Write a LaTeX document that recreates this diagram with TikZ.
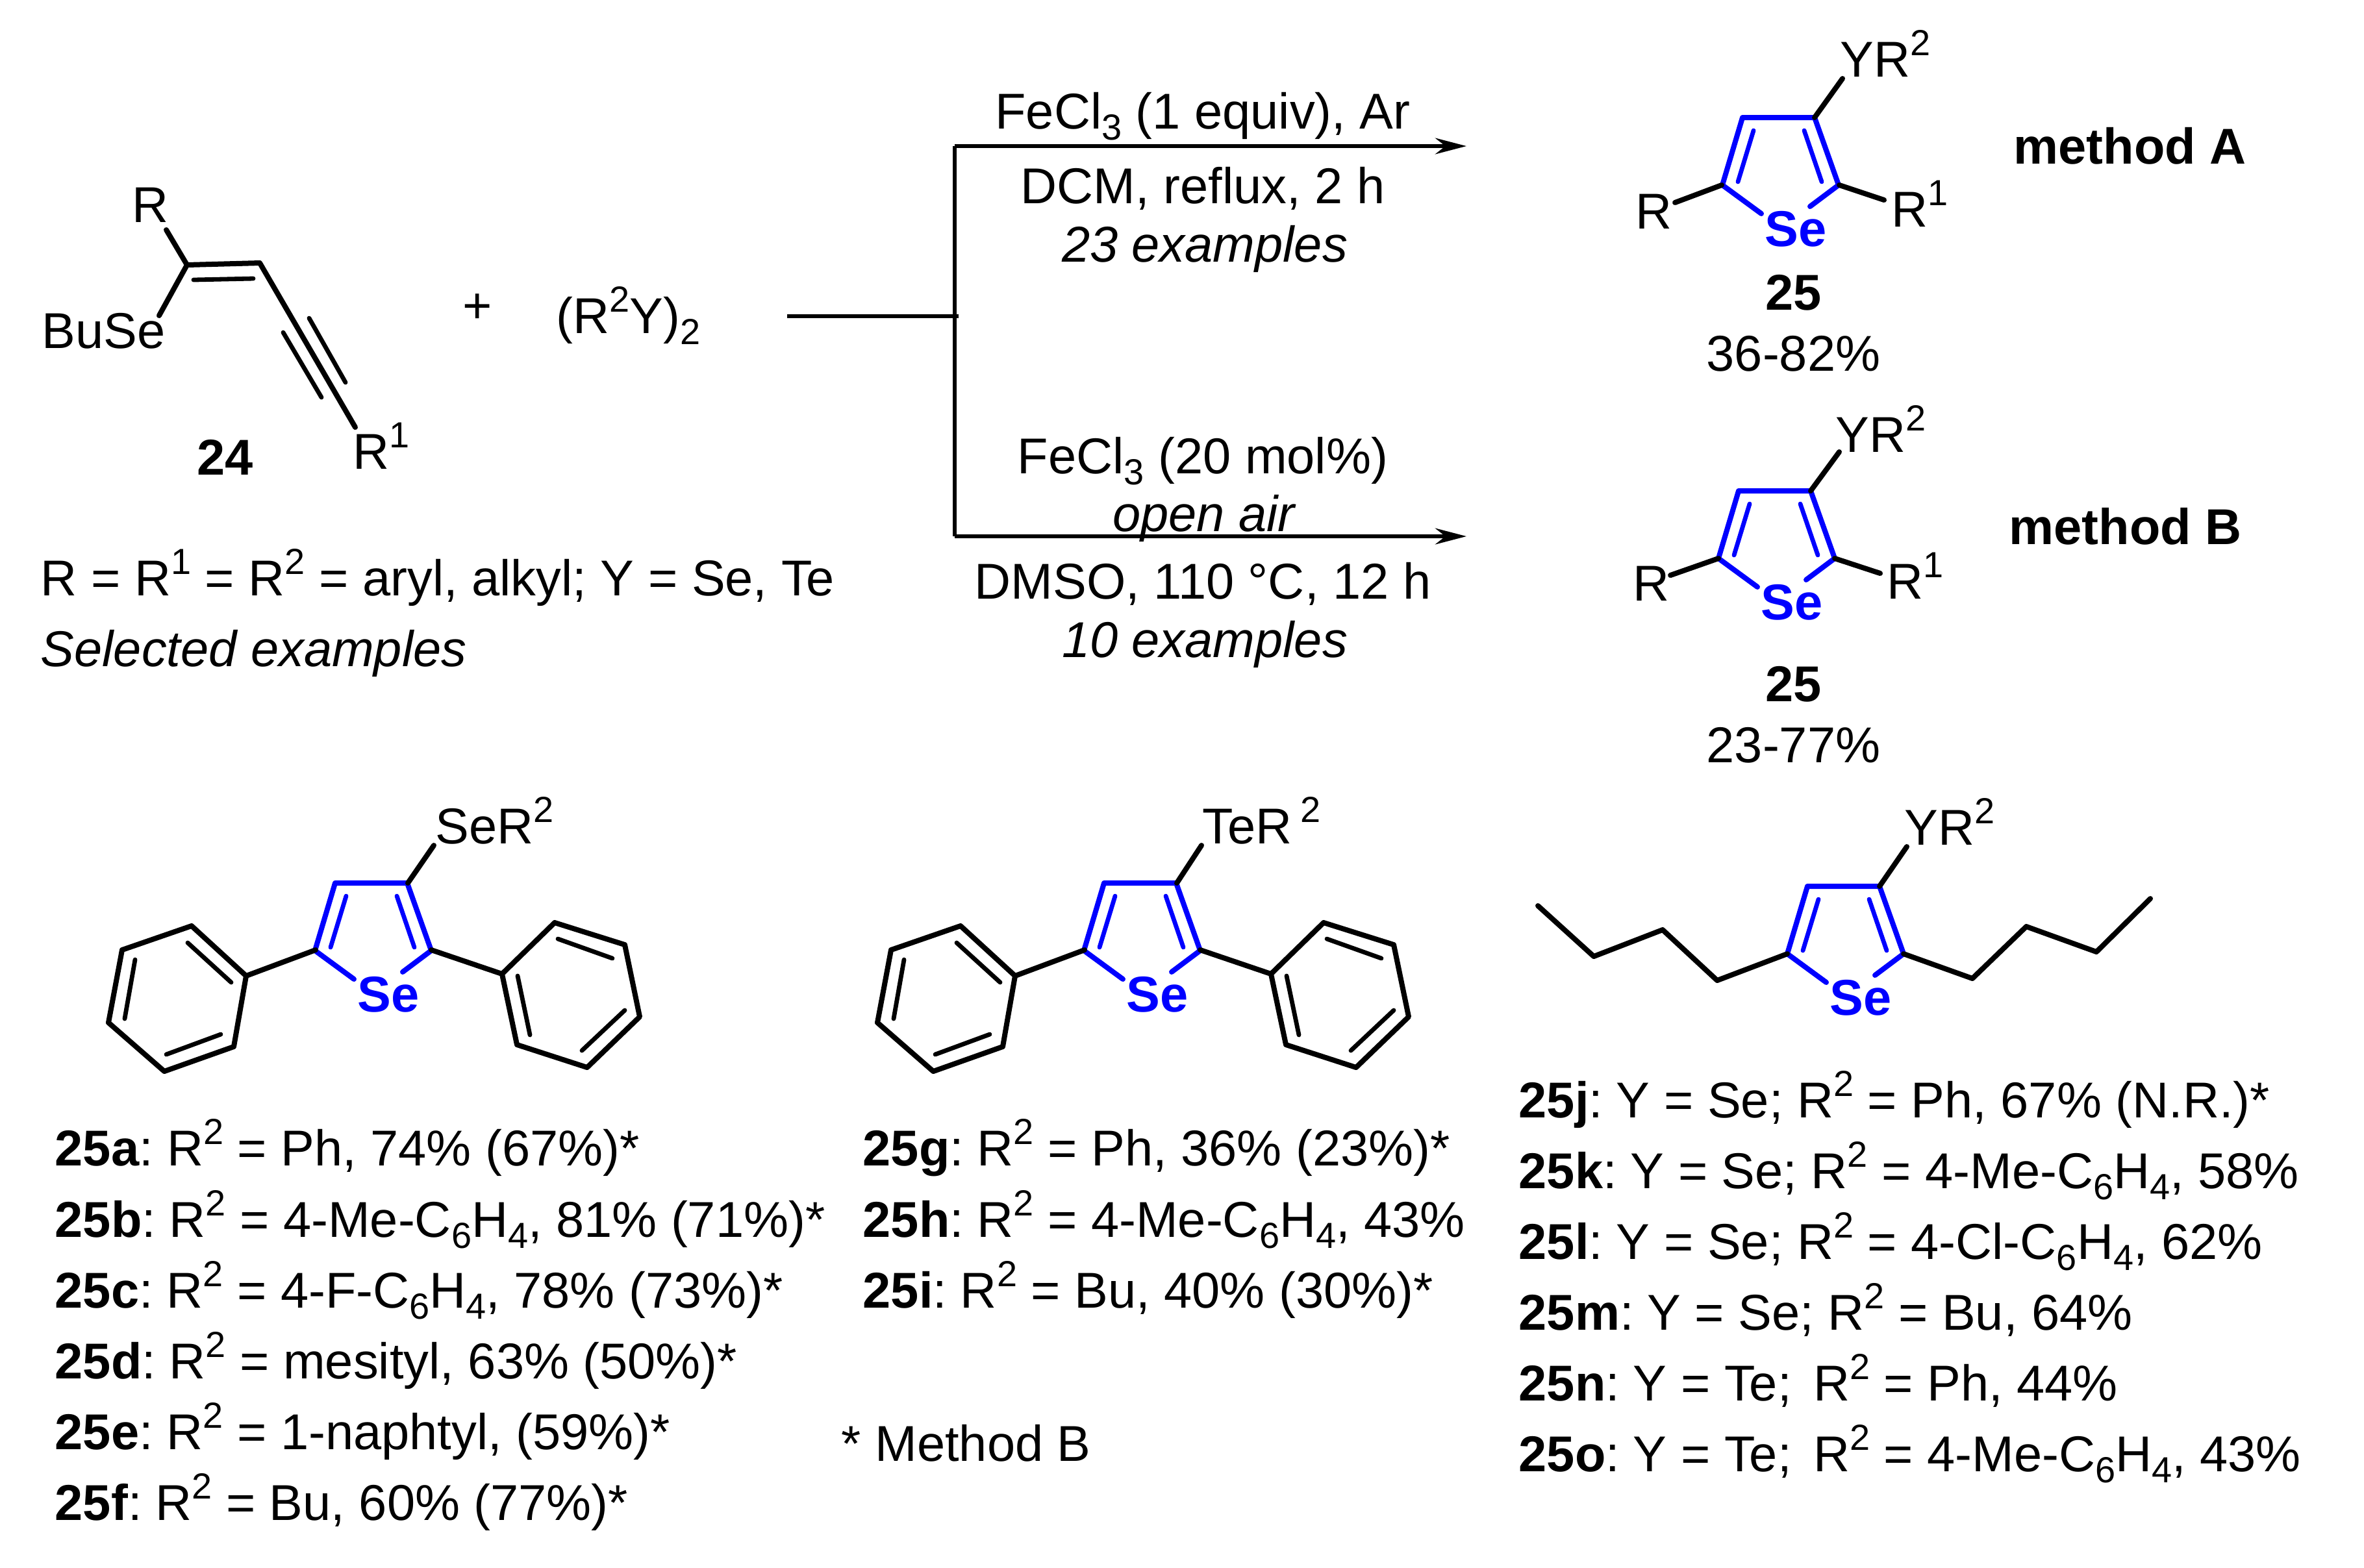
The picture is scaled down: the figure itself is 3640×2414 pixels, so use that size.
\documentclass[tikz,border=0pt]{standalone}
\usepackage{fontspec}
\setmainfont{Liberation Sans}
\usetikzlibrary{arrows.meta}
\definecolor{ringblue}{RGB}{0,0,255}
\newcommand{\sps}[1]{\raisebox{.42em}{\scalebox{.72}{#1}}}
\newcommand{\sbs}[1]{\raisebox{-.22em}{\scalebox{.72}{#1}}}
\newcommand{\cpd}[1]{\textbf{#1}:\hspace{-2pt} }
\tikzset{
  txt/.style={anchor=base west,inner sep=0pt,font=\fontsize{19.4}{23}\selectfont},
  mid/.style={anchor=base,inner sep=0pt,font=\fontsize{19.4}{23}\selectfont},
  bond/.style={line width=2pt,line cap=round,line join=round},
  inbond/.style={line width=1.7pt,line cap=round},
  arrowline/.style={line width=1.5pt},
}
% selenophene ring, origin at its upper left carbon
\newcommand{\selring}[2]{
  \begin{scope}[shift={#1}]
    \draw[bond,ringblue] (29,148) -- (-31,104) -- (0,0) -- (111,0) -- (148,104) -- (104,137);
    \draw[inbond,ringblue] (17,20) -- (-7,99) (95,20) -- (122,99);
    \node[txt,ringblue] (#2) at (34,198) {\textbf{Se}};
  \end{scope}
}
% two phenyl groups of the diaryl selenophene
\newcommand{\phpair}[1]{
  \begin{scope}[shift={#1}]
    \draw[bond] (-137,143) -- (-221,66) -- (-328,103) -- (-349,215) -- (-263,290) -- (-156,252) -- cycle;
    \draw[inbond] (-227,92) -- (-160,153) (-308,118) -- (-324,209) (-260,264) -- (-176,233);
    \draw[bond] (257,140) -- (338,61) -- (446,95) -- (469,206) -- (388,284) -- (280,249) -- cycle;
    \draw[inbond] (343,86) -- (427,116) (281,143) -- (300,234) (380,258) -- (446,196);
    \draw[bond] (-137,143) -- (-30,103) (257,140) -- (148,103);
  \end{scope}
}
\begin{document}
\begin{tikzpicture}[x=0.25pt,y=-0.25pt]
  \useasboundingbox (0,0) rectangle (3640,2414);

  % compound 24
  \draw[bond] (256,354) -- (288,408) -- (245,486);
  \draw[bond] (288,408) -- (400,405) -- (547,658);
  \draw[inbond] (298,431) -- (390,429) (476,490) -- (532,589) (436,512) -- (495,612);
  \node[txt] (sub24R) at (203,342) {R};
  \node[txt] (sub24Se) at (64,536) {BuSe};
  \node[txt] (sub24Ra) at (543,722) {R\sps{1}};
  \node[txt] (lab24) at (303,731) {\textbf{24}};
  \node[txt] (plus) at (712,497) {+};
  \node[txt] (reagent) at (856,513) {(R\sps{2}Y)\sbs{2}};
  \node[txt] (defs) at (62,917) {R = R\sps{1} = R\sps{2} = aryl, alkyl; Y = Se, Te};
  \node[txt] (selected) at (62,1026) {\textit{Selected examples}};

  % arrows
  \coordinate (start) at (1212,487);
  \coordinate (fork) at (1476,487);
  \coordinate (forkA) at (1470,225);
  \coordinate (forkB) at (1470,826);
  \coordinate (endA) at (2258,225);
  \coordinate (endB) at (2258,826);
  \draw[arrowline] (start) -- (fork) (forkA) -- (forkB);
  \draw[arrowline,-{Stealth[length=12pt,width=6.2pt]}] (forkA) -- (endA);
  \draw[arrowline,-{Stealth[length=12pt,width=6.2pt]}] (forkB) -- (endB);
  \node[mid] (condA) at (1852,198) {FeCl\sbs{3} (1 equiv), Ar};
  \node[mid] (solvA) at (1852,313) {DCM, reflux, 2 h};
  \node[mid] (exA) at (1855,403) {\textit{23 examples}};
  \node[mid] (condB) at (1852,729) {FeCl\sbs{3} (20 mol\%)};
  \node[mid] (airB) at (1855,818) {\textit{open air}};
  \node[mid] (solvB) at (1852,922) {DMSO, 110 °C, 12 h};
  \node[mid] (exB) at (1855,1012) {\textit{10 examples}};

  % product, method A
  \selring{(2683,181)}{seA}
  \draw[bond] (2794,181) -- (2837,121) (2651,285) -- (2579,312) (2832,285) -- (2901,308);
  \node[txt] (yA) at (2833,118) {YR\sps{2}};
  \node[txt] (rA) at (2518,352) {R};
  \node[txt] (raA) at (2912,349) {R\sps{1}};
  \node[txt] (labA) at (2718,477) {\textbf{25}};
  \node[txt] (yieldA) at (2627,571) {36-82\%};
  \node[txt] (methA) at (3100,252) {\textbf{method A}};

  % product, method B
  \selring{(2677,756)}{seB}
  \draw[bond] (2788,756) -- (2832,696) (2646,860) -- (2572,886) (2825,860) -- (2895,883);
  \node[txt] (yB) at (2826,696) {YR\sps{2}};
  \node[txt] (rB) at (2514,925) {R};
  \node[txt] (raB) at (2905,922) {R\sps{1}};
  \node[txt] (labB) at (2718,1080) {\textbf{25}};
  \node[txt] (yieldB) at (2627,1174) {23-77\%};
  \node[txt] (methB) at (3093,838) {\textbf{method B}};

  % diphenyl products
  \selring{(516,1360)}{seC}
  \phpair{(516,1360)}
  \draw[bond] (628,1360) -- (668,1302);
  \node[txt] (yC) at (670,1299) {SeR\sps{2}};
  \selring{(1700,1360)}{seD}
  \phpair{(1700,1360)}
  \draw[bond] (1812,1360) -- (1850,1302);
  \node[txt] (yD) at (1851,1299) {TeR\,\sps{2}};

  % dibutyl product
  \selring{(2783,1365)}{seE}
  \draw[bond] (2752,1469) -- (2644,1510) -- (2560,1432) -- (2454,1473) -- (2368,1395);
  \draw[bond] (2931,1469) -- (3037,1507) -- (3120,1427) -- (3228,1466) -- (3311,1384);
  \draw[bond] (2894,1365) -- (2936,1304);
  \node[txt] (yE) at (2932,1301) {YR\sps{2}};

  % first column
  \node[txt] (ex25a) at (84,1795) {\cpd{25a}R\sps{2} = Ph, 74\% (67\%)*};
  \node[txt] (ex25b) at (84,1905) {\cpd{25b}R\sps{2} = 4-Me-C\sbs{6}H\sbs{4}, 81\% (71\%)*};
  \node[txt] (ex25c) at (84,2014) {\cpd{25c}R\sps{2} = 4-F-C\sbs{6}H\sbs{4}, 78\% (73\%)*};
  \node[txt] (ex25d) at (84,2123) {\cpd{25d}R\sps{2} = mesityl, 63\% (50\%)*};
  \node[txt] (ex25e) at (84,2232) {\cpd{25e}R\sps{2} = 1-naphtyl, (59\%)*};
  \node[txt] (ex25f) at (84,2341) {\cpd{25f}R\sps{2} = Bu, 60\% (77\%)*};

  % second column
  \node[txt] (ex25g) at (1328,1795) {\cpd{25g}R\sps{2} = Ph, 36\% (23\%)*};
  \node[txt] (ex25h) at (1328,1905) {\cpd{25h}R\sps{2} = 4-Me-C\sbs{6}H\sbs{4}, 43\%};
  \node[txt] (ex25i) at (1328,2014) {\cpd{25i}R\sps{2} = Bu, 40\% (30\%)*};
  \node[txt] (note) at (1295,2250) {* Method B};

  % third column
  \node[txt] (ex25j) at (2338,1721) {\cpd{25j}Y = Se; R\sps{2} = Ph, 67\% (N.R.)*};
  \node[txt] (ex25k) at (2338,1830) {\cpd{25k}Y = Se; R\sps{2} = 4-Me-C\sbs{6}H\sbs{4}, 58\%};
  \node[txt] (ex25l) at (2338,1939) {\cpd{25l}Y = Se; R\sps{2} = 4-Cl-C\sbs{6}H\sbs{4}, 62\%};
  \node[txt] (ex25m) at (2338,2048) {\cpd{25m}Y = Se; R\sps{2} = Bu, 64\%};
  \node[txt] (ex25n) at (2338,2157) {\cpd{25n}Y = Te;\hspace{3pt} R\sps{2} = Ph, 44\%};
  \node[txt] (ex25o) at (2338,2266) {\cpd{25o}Y = Te;\hspace{3pt} R\sps{2} = 4-Me-C\sbs{6}H\sbs{4}, 43\%};
\end{tikzpicture}
\end{document}
